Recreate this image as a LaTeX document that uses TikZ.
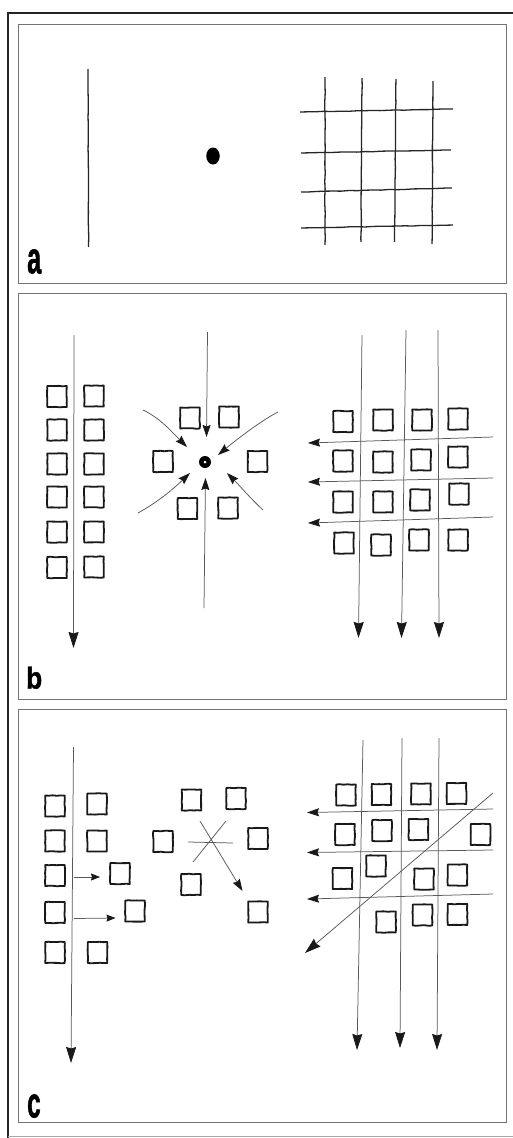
\documentclass[tikz,border=0pt]{standalone}
\usepackage{fontspec}
\setsansfont{Liberation Sans}
\newfontfamily\labfont[BoldFeatures={FakeBold=1.5}]{Liberation Sans}
\usepackage{graphicx}
\usetikzlibrary{arrows.meta,decorations.pathmorphing,shapes.geometric}
\tikzset{
  frame/.style={draw=black!55, line width=0.8pt},
  outer/.style={draw=black!85, line width=2pt},
  sqr/.style={draw=black!90, line width=1.8pt, minimum width=19.5pt, minimum height=21pt, inner sep=0pt, line join=round,
    decorate, decoration={random steps, segment length=4pt, amplitude=0.3pt}},
  wline/.style={draw=black!85, line width=1.3pt, line join=round, decorate, decoration={random steps, segment length=8pt, amplitude=0.25pt}},
  arr/.style={draw=black!65, line width=0.75pt, -{Stealth[length=16pt,width=10pt,inset=1.5pt,color=black!90]}},
  marr/.style={draw=black!65, line width=0.75pt, -{Stealth[length=12pt,width=8pt,inset=1.5pt,color=black!90]}},
  sarr/.style={draw=black!65, line width=0.75pt, -{Stealth[length=9pt,width=7pt,inset=1pt,color=black!90]}},
  thin/.style={draw=black!65, line width=0.75pt},
  lab/.style={anchor=south west, inner sep=0pt, font=\labfont\bfseries}
}
\newcommand\conn[4][arr]{\coordinate (#2s) at (#3); \coordinate (#2e) at (#4); \draw[#1] (#2s) -- (#2e);}
\newcommand\sq[4][]{\node[sqr,#1] (#2) at (#3,#4) {};}
\begin{document}
\begin{tikzpicture}[x=1pt,y=-1pt]
\pgfmathsetseed{7}
\useasboundingbox (0,0) rectangle (513,1138);
\fill[white] (0,0) rectangle (513,1138);
% outer frame
\coordinate (otr) at (514,12.5);
\coordinate (otl) at (8,12.5);
\coordinate (obl) at (8,1139);
\draw[outer] (otr) -- (otl) -- (obl);
\coordinate (obr) at (514,1136.5);
\coordinate (obl2) at (8,1136.5);
\draw[draw=black!35, line width=1pt] (obl2) -- (obr);
% panel frames
\node[frame, minimum width=488pt, minimum height=259pt, inner sep=0pt] (pa) at (262,153.5) {};
\node[frame, minimum width=488pt, minimum height=406pt, inner sep=0pt] (pb) at (262,496) {};
\node[frame, minimum width=488pt, minimum height=413pt, inner sep=0pt] (pc) at (262,915.5) {};

%%%%%%%%%%%%%%%% panel a
\node[lab] (la) at (27,274) {\resizebox{14pt}{24pt}{a}};
\coordinate (av1) at (88,69); \coordinate (av2) at (88.5,247);
\draw[wline] (av1) -- (av2);
\node[ellipse, fill=black, minimum width=13.5pt, minimum height=17pt, inner sep=0pt, draw=none] (adot) at (213,156) {};
% grid verticals
\coordinate (g1t) at (325,77); \coordinate (g1b) at (325,245); \draw[wline] (g1t) -- (g1b);
\coordinate (g2t) at (362,78); \coordinate (g2b) at (361,242); \draw[wline] (g2t) -- (g2b);
\coordinate (g3t) at (396,79); \coordinate (g3b) at (394.5,242); \draw[wline] (g3t) -- (g3b);
\coordinate (g4t) at (433,81); \coordinate (g4b) at (432,244); \draw[wline] (g4t) -- (g4b);
% grid horizontals
\coordinate (h1l) at (300,112); \coordinate (h1r) at (453,109); \draw[wline] (h1l) -- (h1r);
\coordinate (h2l) at (301,153); \coordinate (h2r) at (451,150); \draw[wline] (h2l) -- (h2r);
\coordinate (h3l) at (301,192); \coordinate (h3r) at (452,188); \draw[wline] (h3l) -- (h3r);
\coordinate (h4l) at (301,228); \coordinate (h4r) at (453,225); \draw[wline] (h4l) -- (h4r);

%%%%%%%%%%%%%%%% panel b
\node[lab] (lb) at (26,689) {\resizebox{16pt}{22pt}{b}};
% left group
\conn{bl}{74,335}{73.5,648}
\sq{b11}{57}{396.5}\sq{b12}{94}{396}
\sq{b21}{57}{430}\sq{b22}{94}{430}
\sq{b31}{57}{464}\sq{b32}{94}{464}
\sq{b41}{57}{497}\sq{b42}{94}{497}
\sq{b51}{57}{532}\sq{b52}{94}{532}
\sq{b61}{57}{567.5}\sq{b62}{94}{567}
% centre group
\sq{bctl}{190}{418}\sq{bctr}{229}{417}
\sq{bcl}{163}{461.5}\sq{bcr}{257.5}{461.5}
\sq{bcbl}{187.5}{508.5}\sq{bcbr}{228}{508}
\node[circle, fill=black, minimum size=12pt, inner sep=0pt] (bdot) at (205,462) {};
\node[circle, fill=white, minimum size=3pt, inner sep=0pt] (bdotc) at (205,462) {};
\conn[marr]{bct}{207.5,332}{206.5,437}
\conn[marr]{bcb}{204,608}{205.5,478}
\coordinate (bulS) at (143,410); \coordinate (bulE) at (187,447);
\draw[marr] (bulS) .. controls (160,418) and (172,432) .. (bulE);
\coordinate (burS) at (278,412); \coordinate (burE) at (218,455);
\draw[marr] (burS) .. controls (262,420) and (236,440) .. (burE);
\coordinate (bllS) at (138,513); \coordinate (bllE) at (190,473);
\draw[marr] (bllS) .. controls (156,503) and (170,492) .. (bllE);
\coordinate (blrS) at (263,510); \coordinate (blrE) at (227,473);
\draw[marr] (blrS) .. controls (252,500) and (240,486) .. (blrE);
% right group
\conn{brv1}{362,335}{358.5,638}
\conn{brv2}{406,330}{401.5,638}
\conn{brv3}{438,330}{439,638}
\conn[marr]{brh1}{493,437}{308,443}
\conn[marr]{brh2}{493,478}{308,482}
\conn[marr]{brh3}{493,517}{308,523}
\sq{br11}{343}{421.5}\sq{br12}{383}{420}\sq{br13}{422}{420}\sq{br14}{458}{419}
\sq{br21}{343}{461}\sq{br22}{383}{462}\sq{br23}{421}{460}\sq{br24}{458}{457}
\sq{br31}{343}{502}\sq{br32}{383}{502}\sq{br33}{420}{500}\sq{br34}{459}{494}
\sq{br41}{344}{543}\sq{br42}{381}{545}\sq{br43}{419}{540}\sq{br44}{458}{540}

%%%%%%%%%%%%%%%% panel c
\node[lab] (lc) at (27,1118) {\resizebox{13.5pt}{23pt}{c}};
% left group
\conn{cl}{73.5,747}{71,1063}
\sq{c11}{55}{806}\sq{c12}{97}{804}
\sq{c21}{55}{841}\sq{c22}{97}{841}
\sq{c31}{55}{875.5}\sq{c32}{120}{873.5}
\sq{c41}{55}{912.5}\sq{c42}{135}{911}
\sq{c51}{55}{952.5}\sq{c52}{97.5}{952.5}
\conn[sarr]{cs1}{74,877}{100,877}
\conn[sarr]{cs2}{74,918.5}{115.5,918}
% centre group
\sq{cctl}{191.5}{800}\sq{cctr}{236}{798.5}
\sq{ccl}{163}{841.5}\sq{ccr}{258}{838.5}
\sq{ccbl}{191}{884.5}\sq{ccbr}{258}{912}
\coordinate (cx1) at (188,842); \coordinate (cx2) at (233,843); \draw[thin] (cx1) -- (cx2);
\coordinate (cx3) at (193,862); \coordinate (cx4) at (226,821); \draw[thin] (cx3) -- (cx4);
\conn[marr]{cx}{200,821}{242.5,891}
% right group
\conn{crv1}{363,740}{357,1050}
\conn{crv2}{402,738}{400,1048}
\conn{crv3}{439,738}{437,1050}
\conn[marr]{crh1}{493,809}{307,812.5}
\conn[marr]{crh2}{493,850}{307,852.5}
\conn[marr]{crh3}{493,894}{307,899}
\conn{crd}{493,793}{305,953}
\sq{cr11}{346}{795}\sq{cr12}{381.5}{794.5}\sq{cr13}{421}{794}\sq{cr14}{456.5}{793.5}
\sq{cr21}{345}{834.5}\sq{cr22}{382}{830.5}\sq{cr23}{418.5}{829.5}\sq{cr24}{480.5}{834.5}
\sq{cr31}{342.5}{878.5}\sq{cr32}{376}{866}\sq{cr33}{424}{879}\sq{cr34}{457.5}{875}
\sq{cr41}{386}{922}\sq{cr42}{422.5}{915}\sq{cr43}{457.5}{914.5}
\end{tikzpicture}
\end{document}
